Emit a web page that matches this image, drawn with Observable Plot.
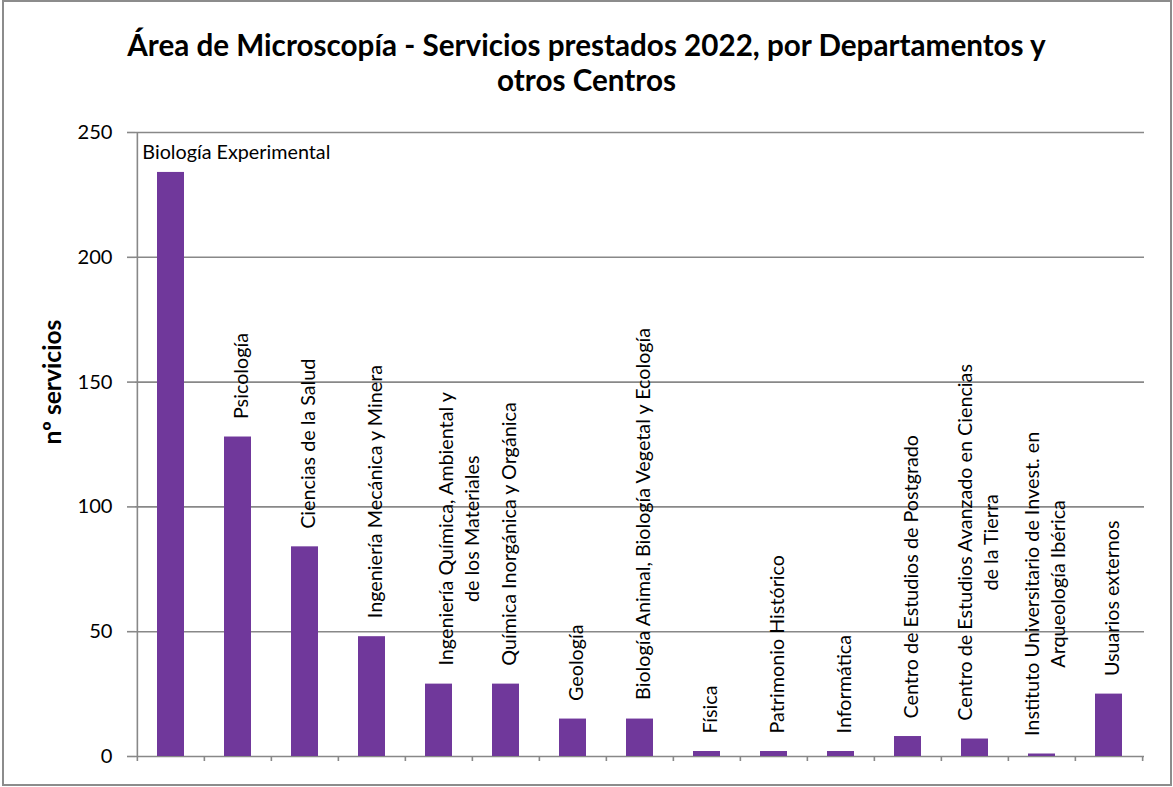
<!DOCTYPE html>
<html><head><meta charset="utf-8">
<script src="https://cdn.jsdelivr.net/npm/d3@7"></script>
<script src="https://cdn.jsdelivr.net/npm/@observablehq/plot@0.6"></script>
<style>
body{margin:0;background:#fff;}
#wrap{position:relative;width:1173px;height:787px;overflow:hidden;font-family:Lato,"Open Sans",sans-serif;background:#fff;}
#border{position:absolute;left:2px;top:0px;width:1170px;height:786px;border:2px solid #8c8c8c;box-sizing:border-box;}
#title{position:absolute;top:27px;left:0;width:1173px;text-align:center;font-weight:bold;line-height:35px;color:#000;}
#chart{position:absolute;top:100px;left:0;}
</style>
</head><body>
<div id="wrap"><div id="border"></div><div id="title"></div><div id="chart"></div></div>
<script>
const titulo = ["Área de Microscopía - Servicios prestados 2022, por Departamentos y", "otros Centros"];
const departamentos = ["Biología Experimental", "Psicología", "Ciencias de la Salud", "Ingeniería Mecánica y Minera", "Ingeniería Química, Ambiental y de los Materiales", "Química Inorgánica y Orgánica", "Geología", "Biología Animal, Biología Vegetal y Ecología", "Física", "Patrimonio Histórico", "Informática", "Centro de Estudios de Postgrado", "Centro de Estudios Avanzado en Ciencias de la Tierra", "Instituto Universitario de Invest. en Arqueología Ibérica", "Usuarios externos"];
const etiquetas = ["Biología Experimental", "Psicología", "Ciencias de la Salud", "Ingeniería Mecánica y Minera", "Ingeniería Química, Ambiental y\nde los Materiales", "Química Inorgánica y Orgánica", "Geología", "Biología Animal, Biología Vegetal y Ecología", "Física", "Patrimonio Histórico", "Informática", "Centro de Estudios de Postgrado", "Centro de Estudios Avanzado en Ciencias\nde la Tierra", "Instituto Universitario de Invest. en\nArqueología Ibérica", "Usuarios externos"];
const servicios = [234, 128, 84, 48, 29, 29, 15, 15, 2, 2, 2, 8, 7, 1, 25];
const yTicks = [0, 50, 100, 150, 200, 250];
const yLabel = "nº servicios";

const FONT = "Lato";
const ctx = document.createElement("canvas").getContext("2d");
function measure(text, weight) { ctx.font = `${weight} 100px ${FONT}`; return ctx.measureText(text).width; }
function fit(text, target, weight = "normal") { return 100 * target / measure(text, weight); }

const titleSize = fit(titulo[0], 920, "bold");
const labelSize = fit("Biología Experimental", 188);
const tickSize = fit("250", 35);
const yLabelSize = fit(yLabel, 125, "bold");

const titleEl = document.getElementById("title");
titleEl.style.fontSize = titleSize + "px";
titleEl.innerHTML = titulo.join("<br>");

const W = 1173, H = 687, mT = 32, mB = 31, mL = 135, mR = 29;
const pxPerUnit = (H - mT - mB) / 250;
const step = (W - mL - mR) / departamentos.length;
const gap = 18;

ctx.font = `normal ${labelSize}px ${FONT}`;
const data = departamentos.map((d, i) => {
  const lines = etiquetas[i].split("\n");
  const len = Math.max(...lines.map(l => ctx.measureText(l).width));
  return {dep: d, val: servicios[i], label: etiquetas[i], i, ly: servicios[i] + (gap + len / 2) / pxPerUnit};
});

const chart = Plot.plot({
  width: W, height: H,
  marginTop: mT, marginBottom: mB, marginLeft: mL, marginRight: mR,
  style: {fontFamily: FONT, background: "transparent", color: "#000"},
  x: {domain: departamentos, paddingInner: 0.6, paddingOuter: 0.3, axis: null},
  y: {domain: [0, 250], axis: null},
  marks: [
    Plot.ruleY(yTicks, {stroke: "#888", strokeWidth: 1.6}),
    Plot.ruleX([departamentos[0]], {x: d => d, y1: 0, y2: 250, dx: -step / 2, stroke: "#888", strokeWidth: 1.6}),
    Plot.axisY({ticks: yTicks, tickSize: 8, tickPadding: 15, fontSize: tickSize, stroke: "#888", strokeWidth: 1.6, fill: "#000", label: null}),
    Plot.axisX({tickSize: 5, dx: -step / 2, tickFormat: () => "", stroke: "#888", strokeWidth: 1.6, label: null}),
    Plot.axisX({ticks: [departamentos[departamentos.length - 1]], tickSize: 5, dx: step / 2, tickFormat: () => "", stroke: "#888", strokeWidth: 1.6, label: null}),
    Plot.barY(data, {x: "dep", y: "val", fill: "#70389b"}),
    Plot.text(data.filter(d => d.i === 0), {x: "dep", y: "val", text: "label", textAnchor: "start", dx: -step / 2 + 5, dy: -20, fontSize: labelSize, fill: "#000"}),
    Plot.text(data.filter(d => d.i > 0 && d.i !== 4), {x: "dep", y: "ly", text: "label", rotate: -90, textAnchor: "middle", lineAnchor: "middle", lineHeight: 26 / labelSize, dx: 2, fontSize: labelSize, fill: "#000"}),
    Plot.text(data.filter(d => d.i === 4), {x: "dep", y: "ly", text: "label", rotate: -90, textAnchor: "middle", lineAnchor: "middle", lineHeight: 26 / labelSize, dx: 19, fontSize: labelSize, fill: "#000"}),
    Plot.text([yLabel], {frameAnchor: "left", rotate: -90, dx: -82, fontSize: yLabelSize, fontWeight: "bold", fill: "#000"})
  ]
});
document.getElementById("chart").appendChild(chart);
</script>
</body></html>
